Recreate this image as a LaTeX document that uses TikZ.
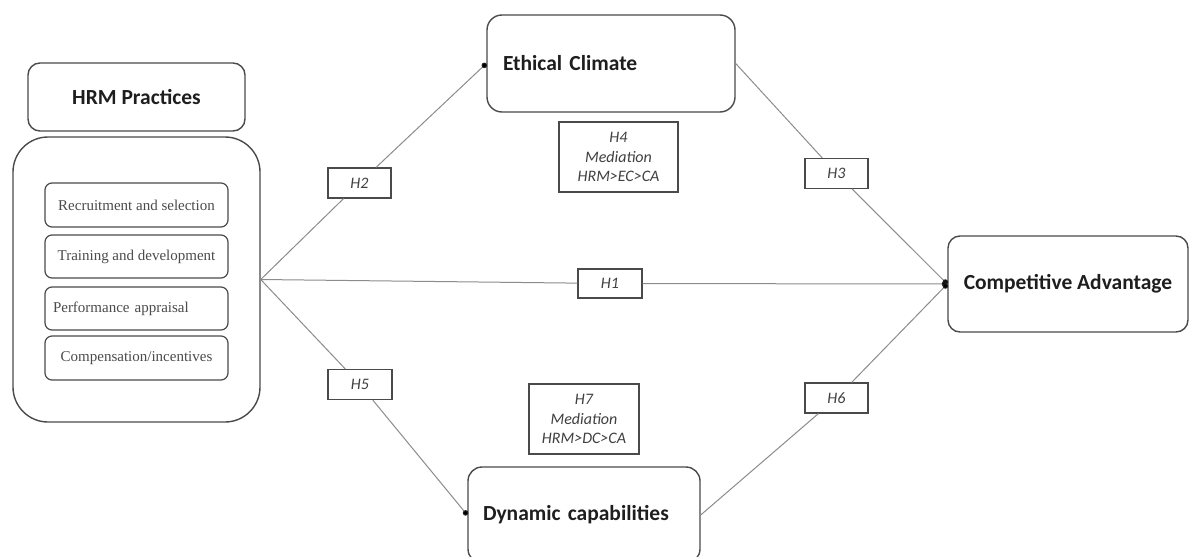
\documentclass[tikz,border=0pt]{standalone}
\usepackage{fontspec}
\setmainfont{Carlito}
\newfontfamily\serifx{Liberation Serif}
\usetikzlibrary{arrows.meta}
\definecolor{boxc}{HTML}{4A4A4A}
\definecolor{linec}{HTML}{8C8C8C}
\definecolor{txtc}{HTML}{1E1E1E}
\begin{document}
\begin{tikzpicture}[x=1pt,y=-1pt,
  rbox/.style={draw=boxc, line width=1.4pt, rectangle, rounded corners=#1, inner sep=0pt, text=txtc},
  titlef/.style={font=\fontsize{21.5}{25}\selectfont\bfseries},
  itembox/.style={draw=boxc, line width=1.2pt, rectangle, rounded corners=7pt, minimum width=183pt, inner sep=0pt, text=txtc!80!white, font=\serifx\fontsize{15}{17}\selectfont},
  hbox/.style={draw=boxc, line width=1.1pt, fill=white, rectangle, inner sep=0pt, minimum width=63pt, minimum height=30pt, text=txtc!85!white, font=\fontsize{16}{19.5}\selectfont\itshape, align=center},
  conn/.style={draw=linec, line width=1pt, -{Circle[length=5.5pt,width=5.5pt,fill=black,color=txtc]}}]
\useasboundingbox (0,0) rectangle (1189,557);
\clip (0,0) rectangle (1189,557);
\fill[white] (0,0) rectangle (1189,557);

% HRM side
\node[rbox=12pt, titlef, minimum width=217pt, minimum height=68pt] (hrmt) at (136.5,97) {HRM Practices};
\node[rbox=35pt, minimum width=247pt, minimum height=285pt] (hrm) at (136.5,279.5) {};
\node[itembox, minimum height=44pt] (r1) at (136.5,205) {Recruitment and selection};
\node[itembox, minimum height=43pt] (r2) at (136.5,256.5) {Training and development};
\node[itembox, minimum height=43pt, text width=167pt, align=left] (r3) at (136.5,308.5) {\mbox{Performance appraisal}};
\node[itembox, minimum height=44pt] (r4) at (136.5,358) {Compensation/incentives};

% constructs
\node[rbox=15pt, titlef, minimum width=248pt, minimum height=97pt, text width=216pt, align=left] (ec) at (611,63.5) {\mbox{Ethical Climate}};
\node[rbox=14pt, titlef, minimum width=232pt, minimum height=96pt, text width=202pt, align=left] (dc) at (584,515) {\mbox{Dynamic capabilities}};
\node[rbox=12pt, titlef, minimum width=240pt, minimum height=96pt] (ca) at (1068,284) {Competitive Advantage};

% hypothesis labels
\node[hbox] (h2) at (359.5,183) {H2};
\node[hbox] (h3) at (836.5,173.5) {H3};
\node[hbox, minimum width=64pt, minimum height=29pt] (h1) at (610,283.5) {H1};
\node[hbox, minimum width=64pt] (h5) at (360,384.5) {H5};
\node[hbox] (h6) at (836.5,398) {H6};
\node[hbox, minimum width=119pt, minimum height=70pt] (h4) at (618.5,157) {H4\\Mediation\\HRM>EC>CA};
\node[hbox, minimum width=110pt, minimum height=70pt] (h7) at (584,419) {H7\\Mediation\\HRM>DC>CA};

% connectors
\draw[conn] (hrm.east) -- (h2) -- (ec.west);
\draw[conn] (ec.east) -- (h3) -- (ca.west);
\draw[conn] (hrm.east) -- (h1) -- (ca.west);
\draw[conn] (hrm.east) -- (h5) -- (dc.west);
\draw[conn] (dc.east) -- (h6) -- (ca.west);
\end{tikzpicture}
\end{document}
